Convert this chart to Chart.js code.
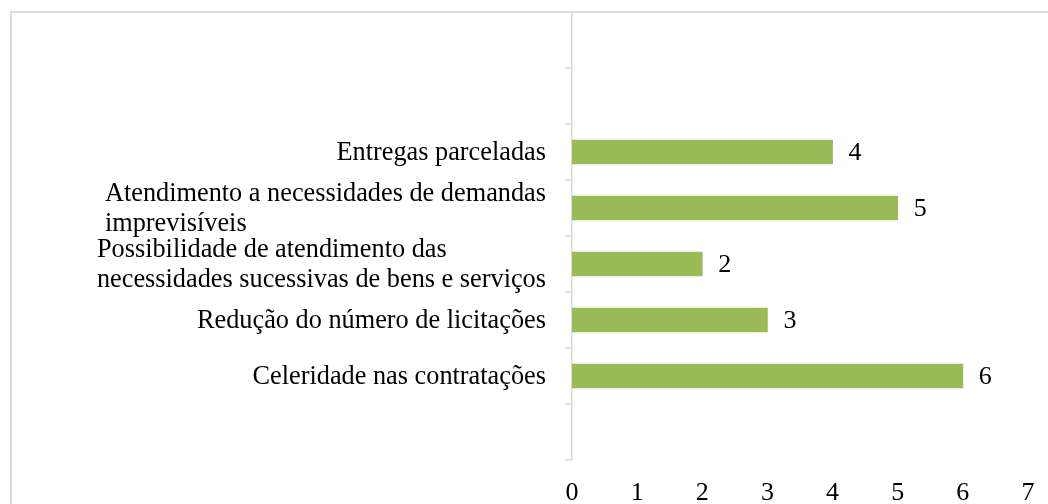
<!DOCTYPE html>
<html>
<head>
<meta charset="utf-8">
<script src="https://cdn.jsdelivr.net/npm/chart.js@4/dist/chart.umd.min.js"></script>
<style>
    html, body { margin: 0; padding: 0; background: #fff; overflow: hidden; }
    #wrap { position: relative; width: 1048px; height: 504px; }
    #frame { position: absolute; left: 10px; top: 11px; width: 1100px; height: 600px; border: 2px solid #dcdcdc; box-sizing: border-box; pointer-events: none; }
    canvas { position: absolute; left: 0; top: 0; }
</style>
</head>
<body>
<div id="wrap">
    <canvas id="barChart" width="1048" height="504"></canvas>
    <div id="frame"></div>
</div>
<script>
const categories = [
    "",
    "",
    "Entregas parceladas",
    ["Atendimento a necessidades de demandas", "imprevisíveis"],
    ["Possibilidade de atendimento das", "necessidades sucessivas de bens e serviços"],
    "Redução do número de licitações",
    "Celeridade nas contratações",
    ""
];
const values = [null, null, 4, 5, 2, 3, 6, null];
const xMin = 0;
const xMax = 7;

const serif = "'Liberation Serif', 'Times New Roman', serif";

// category labels: block right-aligned to the axis, lines left-aligned inside
const categoryLabels = {
    id: "categoryLabels",
    afterDraw(chart) {
        const ctx = chart.ctx;
        const y = chart.scales.y;
        const right = 546;
        const lineHeight = 30;
        ctx.save();
        ctx.font = "26.3px " + serif;
        ctx.fillStyle = "#000";
        ctx.textAlign = "left";
        ctx.textBaseline = "middle";
        categories.forEach((label, i) => {
            const lines = Array.isArray(label) ? label : [label];
            if (!lines[0]) return;
            const w = Math.max(...lines.map(l => ctx.measureText(l).width));
            const cy = y.getPixelForValue(i) + 1;
            const top = cy - (lines.length - 1) * lineHeight / 2;
            lines.forEach((l, k) => ctx.fillText(l, right - w, top + k * lineHeight));
        });
        ctx.restore();
    }
};

// value labels after each bar
const valueLabels = {
    id: "valueLabels",
    afterDatasetsDraw(chart) {
        const ctx = chart.ctx;
        const meta = chart.getDatasetMeta(0);
        ctx.save();
        ctx.font = "26px " + serif;
        ctx.fillStyle = "#000";
        ctx.textAlign = "left";
        ctx.textBaseline = "middle";
        meta.data.forEach((bar, i) => {
            if (values[i] == null) return;
            ctx.fillText(String(values[i]), bar.x + 16, bar.y + 1);
        });
        ctx.restore();
    }
};

new Chart(document.getElementById("barChart"), {
    type: "bar",
    data: {
        labels: categories,
        datasets: [{
            data: values,
            backgroundColor: "#9bbb59",
            barThickness: 24
        }]
    },
    options: {
        indexAxis: "y",
        responsive: false,
        animation: false,
        layout: { padding: { left: 0, right: 20, top: 12, bottom: 0 } },
        plugins: { legend: { display: false }, tooltip: { enabled: false } },
        scales: {
            x: {
                min: xMin,
                max: xMax,
                grid: { display: false },
                border: { display: false },
                ticks: {
                    stepSize: 1,
                    maxRotation: 0,
                    padding: 10,
                    color: "#000",
                    font: { family: serif, size: 26 }
                },
                afterFit(scale) { scale.height = 44; }
            },
            y: {
                offset: true,
                grid: {
                    display: true,
                    offset: true,
                    drawOnChartArea: false,
                    drawTicks: true,
                    tickLength: 7,
                    color: "#d9d9d9",
                    lineWidth: 1.5
                },
                border: { display: true, color: "#d9d9d9", width: 1.5 },
                ticks: { display: false },
                afterFit(scale) { scale.width = 572; }
            }
        }
    },
    plugins: [categoryLabels, valueLabels]
});
</script>
</body>
</html>
